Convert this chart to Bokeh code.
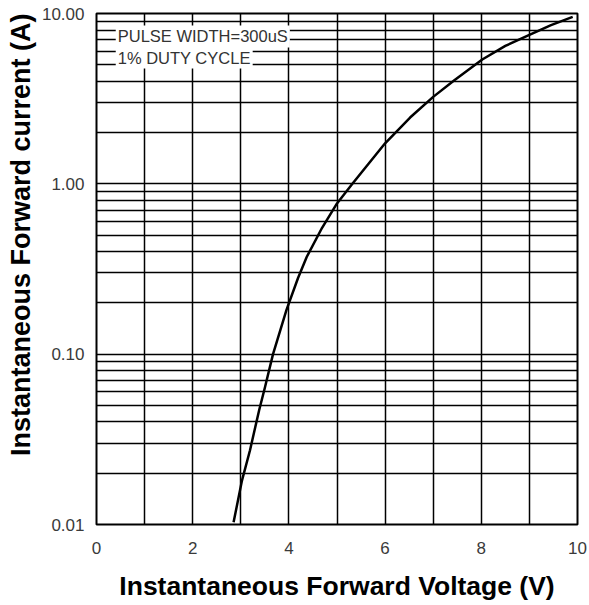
from bokeh.plotting import figure
from bokeh.models import FixedTicker, PrintfTickFormatter, Label, Range1d, Title
from bokeh.embed import file_html
from bokeh.resources import INLINE

# Curve (V, A)
voltage = [2.85, 3.02, 3.19, 3.38, 3.50, 3.67, 3.95, 4.19, 4.37, 4.69, 5.00,
           5.32, 6.00, 6.52, 7.00, 7.44, 8.02, 8.50, 9.00, 9.45, 9.90]
current = [0.0103, 0.0179, 0.0272, 0.0467, 0.0635, 0.100, 0.182, 0.280, 0.372,
           0.552, 0.767, 1.00, 1.73, 2.45, 3.24, 4.06, 5.37, 6.45, 7.50, 8.55,
           9.55]

x_ticks = [0, 2, 4, 6, 8, 10]
x_gridlines = [0, 1, 2, 3, 4, 5, 6, 7, 8, 9, 10]
y_ticks = [0.01, 0.1, 1, 10]
y_minor = [m * d for d in (0.01, 0.1, 1) for m in range(2, 10)]
notes = ["PULSE WIDTH=300uS", "1% DUTY CYCLE"]
x_title = "Instantaneous Forward Voltage (V)"
y_title = "Instantaneous Forward current (A)"

FONT = "Liberation Sans"

p = figure(width=588, height=604,
           x_range=Range1d(0, 10), y_range=Range1d(0.01, 10),
           y_axis_type="log",
           output_backend="svg", toolbar_location=None,
           min_border_left=96, min_border_right=11,
           min_border_top=13, min_border_bottom=80)

p.background_fill_color = "white"
p.border_fill_color = "white"
p.outline_line_color = "black"
p.outline_line_width = 2

# grids
p.xgrid.ticker = FixedTicker(ticks=x_gridlines)
p.xgrid.grid_line_color = "black"
p.xgrid.grid_line_width = 1.5
p.xgrid.grid_line_alpha = 1.0
p.ygrid.ticker = FixedTicker(ticks=y_ticks, minor_ticks=y_minor)
p.ygrid.grid_line_color = "black"
p.ygrid.grid_line_width = 1.5
p.ygrid.grid_line_alpha = 1.0
p.ygrid.minor_grid_line_color = "black"
p.ygrid.minor_grid_line_width = 1.5
p.ygrid.minor_grid_line_alpha = 1.0

# axes
p.xaxis.ticker = FixedTicker(ticks=x_ticks)
p.yaxis.ticker = FixedTicker(ticks=y_ticks, minor_ticks=y_minor)
p.yaxis.formatter = PrintfTickFormatter(format="%.2f")

for ax in (p.xaxis[0], p.yaxis[0]):
    ax.axis_line_color = None
    ax.major_tick_line_color = None
    ax.minor_tick_line_color = None
    ax.major_tick_in = 0
    ax.major_tick_out = 0
    ax.minor_tick_in = 0
    ax.minor_tick_out = 0
    ax.major_label_text_font = FONT
    ax.major_label_text_font_size = "17px"
    ax.major_label_text_color = "#3a3a3a"
    ax.axis_label_text_font = FONT
    ax.axis_label_text_font_style = "bold"
    ax.axis_label_text_color = "black"

p.xaxis.axis_label = x_title
p.xaxis.axis_label_text_font_size = "26.5px"
p.xaxis.major_label_standoff = 17
p.xaxis.axis_label_standoff = 14
p.yaxis.major_label_standoff = 12

# y title: vertical, aligned to the top end of the frame like the reference
ytitle = Title(text=y_title, align="right", text_font=FONT,
               text_font_style="bold", text_font_size="27px",
               text_color="black", standoff=5)
p.add_layout(ytitle, "left")

# curve
p.line(voltage, current, line_color="black", line_width=2.5,
       line_join="round")

# notes box
note_pos = [(0.40, 7.33), (0.40, 5.51)]
for txt, (nx, ny) in zip(notes, note_pos):
    lab = Label(x=nx, y=ny, text=txt, text_font=FONT, text_font_size="16.5px",
                text_color="#333333", text_baseline="middle",
                text_align="left", background_fill_color="white",
                background_fill_alpha=1.0)
    if "padding" in lab.properties():
        lab.padding = 2
    p.add_layout(lab)

open("out.html", "w").write(file_html(p, INLINE))
